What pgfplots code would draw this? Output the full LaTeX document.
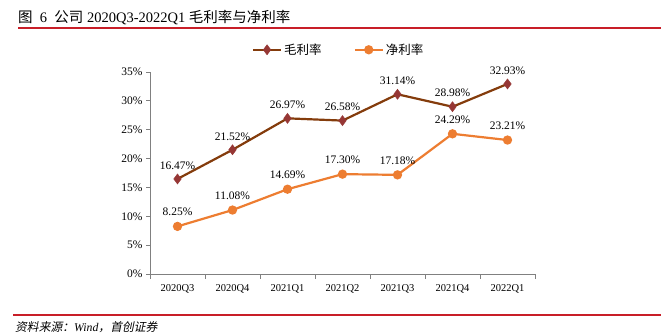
\documentclass[border=0pt]{standalone}
\usepackage{pgfplots}
\pgfplotsset{compat=1.18}
\usepackage{fontspec}
\setmainfont{Liberation Serif}
\newfontfamily\cjk{Noto Sans CJK SC}
\newfontfamily\cjkit[FakeSlant=0.2]{Noto Sans CJK SC}
\definecolor{gross}{RGB}{132,60,12}
\definecolor{grossm}{RGB}{150,55,53}
\definecolor{net}{RGB}{237,125,49}
\definecolor{redline}{RGB}{200,30,40}
\begin{document}
\begin{tikzpicture}[x=1pt,y=1pt]
\useasboundingbox (0,0) rectangle (661,334);
\node[anchor=west,inner sep=0pt] at (18,316) {\fontsize{14.5}{16}\selectfont{\cjk 图}\ \ 6\ \ {\cjk 公司} 2020Q3-2022Q1 {\cjk 毛利率与净利率}};
\draw[redline, line width=1.2pt] (18,306) -- (661,306);
\draw[redline, line width=1.2pt] (13,19) -- (661,19);
\node[anchor=west,inner sep=0pt] at (15,7) {\fontsize{11.8}{13}\selectfont{\cjkit 资料来源：}\textit{Wind}{\cjkit ，首创证券}};
\begin{axis}[
  at={(150pt,60pt)}, anchor=south west,
  scale only axis, width=385pt, height=202pt,
  xmin=-0.5, xmax=6.5, ymin=0, ymax=35,
  axis lines*=left,
  axis line style={gray, line width=0.8pt},
  xtick={0,...,6},
  xticklabels={2020Q3,2020Q4,2021Q1,2021Q2,2021Q3,2021Q4,2022Q1},
  minor xtick={-0.5,0.5,...,6.5},
  major x tick style={draw=none},
  minor tick length=5pt,
  major tick length=4pt,
  tick align=outside,
  tick style={gray, line width=0.8pt},
  ytick={0,5,...,35},
  yticklabel={\pgfmathprintnumber{\tick}\%},
  /pgf/number format/assume math mode=true,
  x tick label style={font=\fontsize{10.5}{12}\selectfont, yshift=-3pt},
  y tick label style={font=\fontsize{11.5}{13}\selectfont},
  nodes near coords={\pgfmathprintnumber[fixed,fixed zerofill,precision=2]{\pgfplotspointmeta}\%},
  nodes near coords style={font=\fontsize{11.5}{13}\selectfont, text=black, anchor=south, yshift=6pt},
  legend style={draw=none, fill=none, font=\cjk\fontsize{12.5}{14}\selectfont, at={(0.49,1.11)}, anchor=center,
    /tikz/every even column/.append style={column sep=30pt}},
  legend columns=2,
  legend image code/.code={\draw[mark repeat=2,mark phase=2] plot coordinates {(0pt,0pt)(14pt,0pt)(28pt,0pt)};},
  clip=false,
]
\addplot[gross, line width=2.2pt, mark=diamond*, mark size=5pt, mark options={fill=grossm, draw=grossm, line width=0.5pt}]
 coordinates {(0,16.47)(1,21.52)(2,26.97)(3,26.58)(4,31.14)(5,28.98)(6,32.93)};
\addlegendentry{毛利率}
\addplot[net, line width=2.2pt, mark=*, mark size=3.5pt, mark options={fill=net, draw=net}]
 coordinates {(0,8.25)(1,11.08)(2,14.69)(3,17.30)(4,17.18)(5,24.29)(6,23.21)};
\addlegendentry{净利率}
\end{axis}
\end{tikzpicture}
\end{document}
